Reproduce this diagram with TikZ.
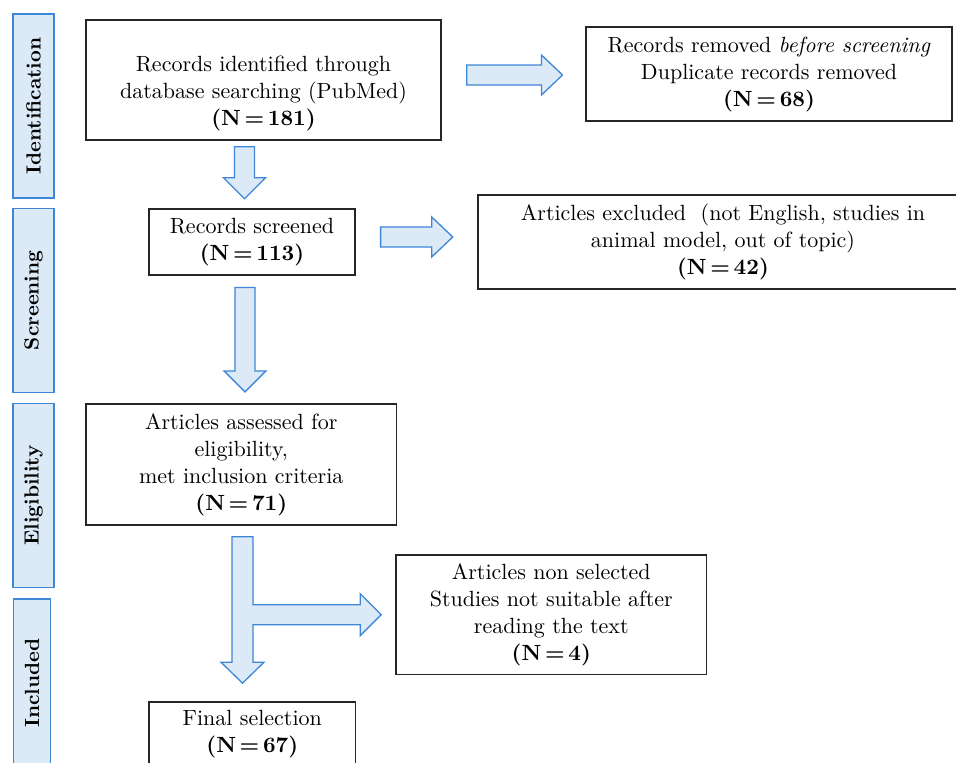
\documentclass[tikz,border=0pt]{standalone}
\usepackage{fontspec}
\setmainfont{lmroman10-regular.otf}[BoldFont=lmroman10-bold.otf,
  ItalicFont=lmroman10-italic.otf,BoldItalicFont=lmroman10-bolditalic.otf]
\usepackage{tikz}
\usetikzlibrary{calc}
\definecolor{phaseblue}{RGB}{62,134,214}
\definecolor{phasefill}{RGB}{220,234,247}
\definecolor{boxline}{gray}{0.15}
% block arrows: axis, from node, to node, start gap, tip gap
\newcommand{\vblock}[5]{%
  \path[blockarrow] let \p1=(#2), \p2=(#3) in
    (#1pt-10pt,\y1-#4pt) -- (#1pt+10pt,\y1-#4pt) -- (#1pt+10pt,\y2+#5pt+21pt)
    -- (#1pt+21pt,\y2+#5pt+21pt) -- (#1pt,\y2+#5pt) -- (#1pt-21pt,\y2+#5pt+21pt)
    -- (#1pt-10pt,\y2+#5pt+21pt) -- cycle;}
\newcommand{\hblock}[5]{%
  \path[blockarrow] let \p1=(#2), \p2=(#3) in
    (\x1+#4pt,-#1pt+10pt) -- (\x2-#5pt-21pt,-#1pt+10pt) -- (\x2-#5pt-21pt,-#1pt+20pt)
    -- (\x2-#5pt,-#1pt) -- (\x2-#5pt-21pt,-#1pt-20pt) -- (\x2-#5pt-21pt,-#1pt-10pt)
    -- (\x1+#4pt,-#1pt-10pt) -- cycle;}
\newcommand{\nval}[1]{\textbf{(N\,=\,#1)}}

\begin{document}
\begin{tikzpicture}[x=1pt,y=-1pt,
    box/.style={draw=boxline,line width=1.6pt,align=center,inner sep=0pt,
      font=\fontsize{22}{27}\selectfont},
    phase/.style={draw=phaseblue,fill=phasefill,line width=1.5pt,rotate=90,
      inner sep=0pt,font=\fontsize{20.5}{24}\selectfont\bfseries},
    blockarrow/.style={draw=phaseblue,fill=phasefill,line width=1.3pt,line join=miter}]
  \useasboundingbox (0,0) rectangle (956,763);

  % phases
  \node[phase,minimum width=184,minimum height=41] (identification) at (33.5,106) {Identification};
  \node[phase,minimum width=184,minimum height=41] (screening) at (33.5,300.3) {Screening};
  \node[phase,minimum width=184,minimum height=41] (eligibility) at (33.5,495.5) {Eligibility};
  \node[phase,minimum width=168,minimum height=37.4] (included) at (32,683) {Included};

  % boxes
  \node[box,minimum width=355,minimum height=120] (found) at (263.5,80) {};
  \node[box,draw=none] (foundtext) at (263.5,93)
    {Records identified through\\ database searching (PubMed)\\ \nval{181}};
  \node[box,minimum width=366,minimum height=94] (removed) at (769,74)
    {Records removed \textit{before screening}\\ Duplicate records removed\\ \nval{68}};
  \node[box,minimum width=206,minimum height=66] (screened) at (252,242)
    {Records screened\\ \nval{113}};
  \node[box,minimum width=490,minimum height=94] (excluded) at (723,242)
    {Articles excluded\ \ (not English, studies in\\ animal model, out of topic)\\ \nval{42}};
  \node[box,minimum width=310.7,minimum height=121] (assessed) at (241.3,464.5)
    {Articles assessed for\\ eligibility,\\ met inclusion criteria\\ \nval{71}};
  \node[box,minimum width=310.7,minimum height=119.3] (nonsel) at (551.3,614.7)
    {Articles non selected\\ Studies not suitable after\\ reading the text\\ \nval{4}};
  \node[box,minimum width=206.7,minimum height=64] (final) at (252.3,734)
    {Final selection\\ \nval{67}};

  % arrows
  \vblock{244.5}{found.south}{screened.north}{6}{9.5}
  \vblock{245}{screened.south}{assessed.north}{11.7}{11.3}
  \hblock{75}{found.east}{removed.west}{25}{22.7}
  \hblock{237}{screened.east}{excluded.west}{24.8}{24.5}
  \path[blockarrow] let \p1=(assessed.south), \p2=(final.north), \p3=(nonsel.west) in
    (232pt,\y1-11pt) -- (253pt,\y1-11pt) -- (253pt,\y3+10pt) -- (\x3-35pt,\y3+10pt)
    -- (\x3-35pt,\y3+21pt) -- (\x3-14pt,\y3) -- (\x3-35pt,\y3-21pt) -- (\x3-35pt,\y3-10pt)
    -- (253pt,\y3-10pt) -- (253pt,\y2+39pt) -- (264pt,\y2+39pt) -- (242.5pt,\y2+18pt)
    -- (221pt,\y2+39pt) -- (232pt,\y2+39pt) -- cycle;
\end{tikzpicture}
\end{document}
